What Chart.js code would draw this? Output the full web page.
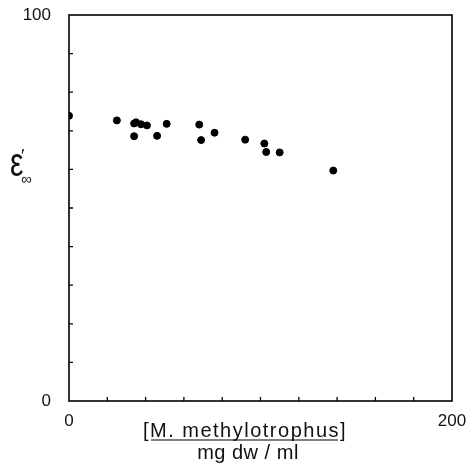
<!DOCTYPE html>
<html>
<head>
<meta charset="utf-8">
<script src="https://cdn.jsdelivr.net/npm/chart.js@4.4.0/dist/chart.umd.min.js"></script>
<style>
  html, body { margin: 0; padding: 0; background: #fff; }
  #wrap { width: 475px; height: 465px; }
</style>
</head>
<body>
<div id="wrap"><canvas id="chart"></canvas></div>
<script>
'use strict';

// concentration, mg dw / ml
var concentration = [0, 25, 34, 35, 37.6, 40.7, 34, 46, 51, 68, 69, 76, 92, 102, 103, 110, 138];
// high frequency permittivity
var epsInf = [73.9, 72.7, 71.9, 72.2, 71.7, 71.4, 68.6, 68.7, 71.8, 71.6, 67.6, 69.5, 67.7, 66.7, 64.5, 64.4, 59.7];

var xTickLabels = { 0: '0', 200: '200' };
var yTickLabels = { 0: '0', 100: '100' };

var points = concentration.map(function(c, i) {
    return { x: c, y: epsInf[i] };
});

var FONT = "'Liberation Sans', Arial, sans-serif";

// frame, inward ticks and axis titles
var framePlugin = {
    id: 'frame',
    afterDraw: function(chart) {
        var ctx = chart.ctx;
        var a = chart.chartArea;
        var xs = chart.scales.x, ys = chart.scales.y;
        ctx.save();
        ctx.strokeStyle = '#000';
        ctx.lineWidth = 1.6;
        ctx.strokeRect(a.left, a.top, a.right - a.left, a.bottom - a.top);

        ctx.lineWidth = 1.3;
        ctx.beginPath();
        for (var v = 20; v < 200; v += 20) {
            var px = xs.getPixelForValue(v);
            ctx.moveTo(px, a.bottom);
            ctx.lineTo(px, a.bottom - 4);
        }
        for (var w = 10; w < 100; w += 10) {
            var py = ys.getPixelForValue(w);
            ctx.moveTo(a.left, py);
            ctx.lineTo(a.left + 4, py);
        }
        ctx.stroke();

        // x title
        ctx.fillStyle = '#111';
        ctx.textBaseline = 'alphabetic';
        ctx.textAlign = 'left';
        ctx.font = '20px ' + FONT;
        ctx.letterSpacing = '1.5px';
        var mid = 'M. methylotrophus';
        var wL = ctx.measureText('[').width;
        var wM = ctx.measureText(mid).width;
        var wR = ctx.measureText(']').width;
        var total = wL + wM + wR;
        var x0 = 245 - total / 2;
        ctx.fillText('[', x0, 437);
        ctx.fillText(mid, x0 + wL, 437);
        ctx.fillText(']', x0 + wL + wM, 437);
        ctx.lineWidth = 1.2;
        ctx.beginPath();
        ctx.moveTo(x0 + wL + 1, 440);
        ctx.lineTo(x0 + wL + wM - 2, 440);
        ctx.stroke();

        ctx.textAlign = 'center';
        ctx.letterSpacing = '0.5px';
        ctx.fillText('mg dw / ml', 248, 459);
        ctx.letterSpacing = '0px';

        // y title: epsilon with infinity subscript and prime
        ctx.save();
        ctx.translate(10, 176);
        ctx.scale(0.75, 1);
        ctx.textAlign = 'left';
        ctx.font = '40px ' + FONT;
        ctx.fillText('\u03b5', 0, 0);
        ctx.restore();
        ctx.textAlign = 'left';
        ctx.font = '18px ' + FONT;
        ctx.fillText('\u2032', 21, 162);
        ctx.font = '15px ' + FONT;
        ctx.fillText('\u221e', 21, 184);
        ctx.restore();
    }
};

var config = {
    type: 'scatter',
    data: {
        datasets: [{
            label: 'eps_inf',
            data: points,
            backgroundColor: '#000',
            borderColor: '#000',
            pointRadius: 3.5,
            pointHoverRadius: 3.5
        }]
    },
    options: {
        responsive: false,
        animation: false,
        layout: {
            padding: { top: 15, right: 23, bottom: 0, left: 0 }
        },
        plugins: {
            legend: { display: false },
            tooltip: { enabled: false }
        },
        scales: {
            x: {
                type: 'linear',
                min: 0,
                max: 200,
                grid: { display: false },
                border: { display: false },
                ticks: {
                    stepSize: 20,
                    maxRotation: 0,
                    autoSkip: false,
                    padding: 2,
                    color: '#111',
                    font: { family: FONT, size: 17 },
                    callback: function(v) { return xTickLabels[v] || ''; }
                },
                afterFit: function(scale) {
                    scale.height = 64;
                    scale.paddingLeft = 0;
                    scale.paddingRight = 0;
                }
            },
            y: {
                type: 'linear',
                min: 0,
                max: 100,
                grid: { display: false },
                border: { display: false },
                ticks: {
                    stepSize: 10,
                    autoSkip: false,
                    padding: 10,
                    color: '#111',
                    font: { family: FONT, size: 17 },
                    callback: function(v) { return yTickLabels[v] || ''; }
                },
                afterFit: function(scale) {
                    scale.width = 69;
                    scale.paddingTop = 0;
                    scale.paddingBottom = 0;
                }
            }
        }
    },
    plugins: [framePlugin]
};

var canvas = document.getElementById('chart');
canvas.width = 475;
canvas.height = 465;
var ctx = canvas.getContext('2d');
window.myScatter = new Chart(ctx, config);
</script>
</body>
</html>
